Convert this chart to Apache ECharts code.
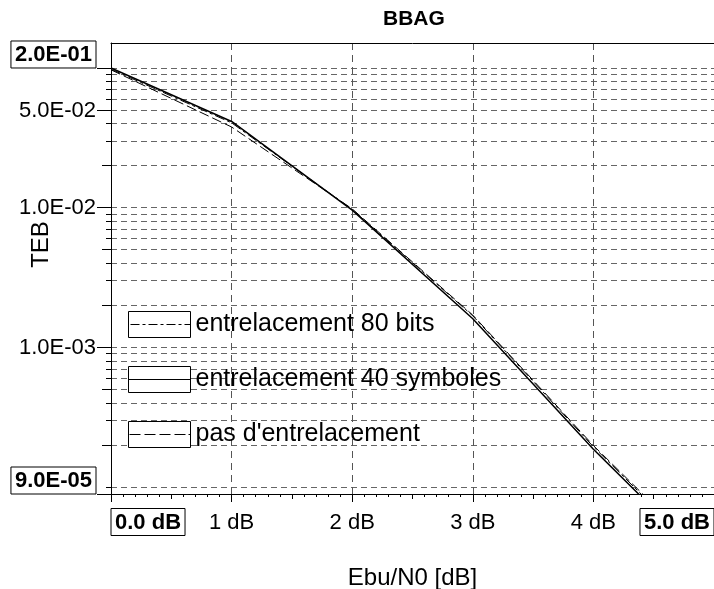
<!DOCTYPE html>
<html>
<head>
<meta charset="utf-8">
<script src="https://cdn.jsdelivr.net/npm/echarts@6.0.0/dist/echarts.min.js"></script>
<style>
html, body { margin: 0; padding: 0; background: #fff; }
#chart { width: 714px; height: 589px; }
</style>
</head>
<body>
<div id="chart"></div>
<script>
// Ebu/N0 in dB
const xValues = [0, 1, 2, 3, 4, 5];
const xTickLabels = ['0.0 dB', '1 dB', '2 dB', '3 dB', '4 dB', '5.0 dB'];
const xHalfTicks = [0.5, 1.5, 2.5, 3.5, 4.5];

// TEB per curve
const ber80Bits = [0.098, 0.0405, 0.0097, 1.68e-3, 1.94e-4, 2.7e-5];
const ber40Symboles = [0.100, 0.0414, 0.0096, 1.60e-3, 1.86e-4, 2.6e-5];
const berSansEntrelacement = [0.097, 0.0378, 0.0098, 1.70e-3, 1.98e-4, 2.8e-5];

const seriesNames = ['entrelacement 80 bits', 'entrelacement 40 symboles', "pas d'entrelacement"];

// log axis range and ticks
const yMin = 8.9e-5;
const yMax = 0.151;
const yTickValues = [yMin, 1e-3, 1e-2, 5e-2, 1e-1];
const yTickLabels = ['9.0E-05', '1.0E-03', '1.0E-02', '5.0E-02', '2.0E-01'];
const yBoxed = [true, false, false, false, true];
const yMediumTicks = [2e-4, 5e-4, 2e-3, 5e-3, 2e-2];
const yGridValues = [
  1e-4, 2e-4, 3e-4, 4e-4, 5e-4, 6e-4, 7e-4, 8e-4, 9e-4,
  1e-3, 2e-3, 3e-3, 4e-3, 5e-3, 6e-3, 7e-3, 8e-3, 9e-3,
  1e-2, 2e-2, 3e-2, 4e-2, 5e-2, 6e-2, 7e-2, 8e-2, 9e-2,
  1e-1
];

const L = Math.log10;
const FONT = 'Liberation Sans';
const toPoints = arr => xValues.map((x, i) => [x, L(arr[i])]);

// legend icons: box with the line sample drawn inside
const iconDashDot = 'path://M0,0H62V26H0Z M2,13H11 M14,13H17 M20,13H29 M32,13H35 M38,13H47 M50,13H53 M56,13H62';
const iconSolid = 'path://M0,0H62V26H0Z M0,13H62';
const iconDashed = 'path://M0,0H62V26H0Z M1,13H12 M16,13H27 M31,13H42 M46,13H57 M60,13H62';

const grid = { left: 111, right: 0, top: 43, bottom: 95, outerBoundsMode: 'none' };

const richLabels = {
  box: { fontFamily: FONT, fontSize: 22, fontWeight: 'bold', color: '#000', lineHeight: 22,
         borderColor: '#000', borderWidth: 1, padding: [3, 4, 2, 4] },
  n: { fontFamily: FONT, fontSize: 22, color: '#000', lineHeight: 22, padding: [3, 0, 2, 0] },
  sp: { fontSize: 10, lineHeight: 27 }
};

const hidden = { show: false };

const chart = echarts.init(document.getElementById('chart'));

chart.setOption({
  animation: false,
  backgroundColor: '#fff',
  textStyle: { fontFamily: FONT },
  title: {
    text: 'BBAG',
    left: 378,
    top: 4,
    textStyle: { fontFamily: FONT, fontSize: 21, fontWeight: 'bold', color: '#000' }
  },
  legend: {
    orient: 'vertical',
    left: 123,
    top: 306,
    itemWidth: 62,
    itemHeight: 26,
    itemGap: 28,
    selectedMode: false,
    itemStyle: { color: '#fff', borderColor: '#000', borderWidth: 1 },
    textStyle: { fontFamily: FONT, fontSize: 25, color: '#000', lineHeight: 26 },
    data: [
      { name: seriesNames[0], icon: iconDashDot },
      { name: seriesNames[1], icon: iconSolid },
      { name: seriesNames[2], icon: iconDashed }
    ]
  },
  grid: [grid, grid, grid],
  xAxis: [
    {
      gridIndex: 0,
      type: 'value',
      min: 0,
      max: 5,
      interval: 1,
      name: 'Ebu/N0 [dB]',
      nameLocation: 'middle',
      nameGap: 72,
      nameMoveOverlap: false,
      nameTextStyle: { fontFamily: FONT, fontSize: 24, color: '#000' },
      axisLine: { show: true, onZero: false, lineStyle: { color: '#000', width: 1 } },
      axisTick: { show: true, length: 8, lineStyle: { color: '#000' } },
      minorTick: { show: true, splitNumber: 10, length: 3, lineStyle: { color: '#000' } },
      axisLabel: {
        margin: 17,
        showMinLabel: true,
        showMaxLabel: true,
        alignMinLabel: 'left',
        alignMaxLabel: 'right',
        formatter: v => {
          const i = xValues.indexOf(v);
          if (i < 0) return '';
          const boxed = i === 0 || i === xValues.length - 1;
          return boxed ? '{box|' + xTickLabels[i] + '}' : '{n|' + xTickLabels[i] + '}';
        },
        rich: richLabels
      },
      splitLine: { show: true, lineStyle: { color: '#555', width: 1, type: [7, 5] } }
    },
    {
      // top frame line
      gridIndex: 1,
      type: 'value',
      min: 0,
      max: 5,
      position: 'top',
      axisLine: { show: true, onZero: false, lineStyle: { color: '#000', width: 1 } },
      axisTick: hidden,
      axisLabel: hidden,
      splitLine: hidden
    },
    {
      // half dB ticks
      gridIndex: 2,
      type: 'value',
      min: 0,
      max: 5,
      position: 'bottom',
      axisLine: { show: false, onZero: false },
      axisTick: { show: true, length: 5, customValues: xHalfTicks, lineStyle: { color: '#000' } },
      axisLabel: hidden,
      splitLine: hidden
    }
  ],
  yAxis: [
    {
      gridIndex: 0,
      type: 'value',
      min: L(yMin),
      max: L(yMax),
      name: 'TEB',
      nameLocation: 'middle',
      nameGap: 58,
      nameMoveOverlap: false,
      nameTextStyle: { fontFamily: FONT, fontSize: 24, color: '#000', padding: [0, 0, 0, 48] },
      axisLine: { show: true, onZero: false, lineStyle: { color: '#000', width: 1 } },
      axisTick: { show: true, length: 14, customValues: yTickValues.map(L), lineStyle: { color: '#000' } },
      axisLabel: {
        margin: 15,
        showMinLabel: true,
        showMaxLabel: true,
        customValues: yTickValues.map(L),
        formatter: v => {
          const i = yTickValues.findIndex(t => Math.abs(L(t) - v) < 1e-9);
          if (i < 0) return '';
          return yBoxed[i] ? '{box|' + yTickLabels[i] + '}\n{sp| }' : '{n|' + yTickLabels[i] + '}';
        },
        rich: richLabels
      },
      splitLine: hidden
    },
    {
      // decade sub-divisions: short ticks and the horizontal grid
      gridIndex: 1,
      type: 'value',
      min: L(yMin),
      max: L(yMax),
      axisLine: { show: false, onZero: false },
      axisTick: { show: true, length: 5, customValues: yGridValues.map(L), lineStyle: { color: '#000' } },
      axisLabel: hidden,
      splitLine: { show: true, lineStyle: { color: '#666', width: 1, type: [6, 4] } }
    },
    {
      gridIndex: 2,
      type: 'value',
      min: L(yMin),
      max: L(yMax),
      axisLine: { show: false, onZero: false },
      axisTick: { show: true, length: 9, customValues: yMediumTicks.map(L), lineStyle: { color: '#000' } },
      axisLabel: hidden,
      splitLine: hidden
    }
  ],
  series: [
    {
      name: seriesNames[0],
      type: 'line',
      xAxisIndex: 0,
      yAxisIndex: 0,
      showSymbol: false,
      symbol: 'none',
      color: '#000',
      lineStyle: { color: '#000', width: 1, type: [10, 3, 3, 3] },
      data: toPoints(ber80Bits),
      z: 3
    },
    {
      name: seriesNames[1],
      type: 'line',
      xAxisIndex: 0,
      yAxisIndex: 0,
      showSymbol: false,
      symbol: 'none',
      color: '#000',
      lineStyle: { color: '#000', width: 1.5, type: 'solid' },
      data: toPoints(ber40Symboles),
      z: 3
    },
    {
      name: seriesNames[2],
      type: 'line',
      xAxisIndex: 0,
      yAxisIndex: 0,
      showSymbol: false,
      symbol: 'none',
      color: '#000',
      lineStyle: { color: '#000', width: 1, type: [10, 4] },
      data: toPoints(berSansEntrelacement),
      z: 3
    }
  ]
});
</script>
</body>
</html>
